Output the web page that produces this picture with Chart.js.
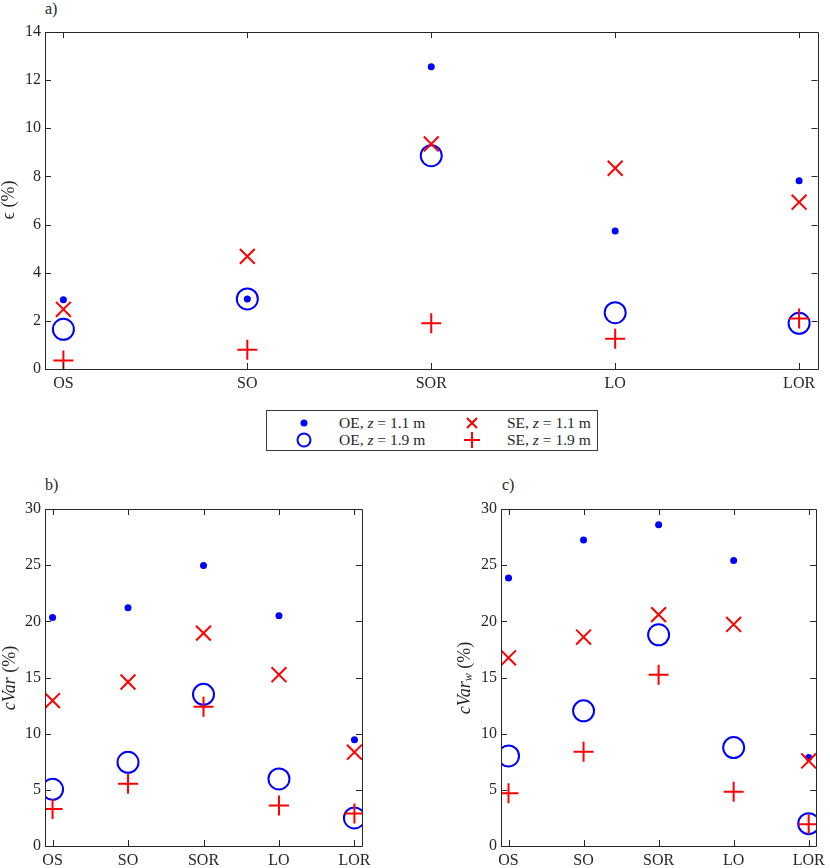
<!DOCTYPE html>
<html>
<head>
<meta charset="utf-8">
<script src="https://cdn.jsdelivr.net/npm/chart.js@4.4.1/dist/chart.umd.min.js"></script>
<style>
body{margin:0;background:#fff;width:830px;height:868px;position:relative;overflow:hidden;font-family:"Liberation Serif",serif;color:#262626}
canvas{position:absolute}
.panel{position:absolute;font-size:16px}
#legend{position:absolute;left:266px;top:410px;width:332px;height:41px;border:1px solid #3a3a3a;box-sizing:border-box;font-size:15.5px}
#legend .it{position:absolute;white-space:nowrap;line-height:16px}
#legend svg{position:absolute}
</style>
</head>
<body>
<div class="panel" style="left:45px;top:0px">a)</div>
<div class="panel" style="left:45px;top:476px">b)</div>
<div class="panel" style="left:502px;top:476px">c)</div>

<canvas id="chartA" width="830" height="400" style="left:0;top:0;width:830px;height:400px"></canvas>
<canvas id="chartB" width="420" height="398" style="left:0;top:470px;width:420px;height:398px"></canvas>
<canvas id="chartC" width="410" height="398" style="left:420px;top:470px;width:410px;height:398px"></canvas>

<div id="legend">
  <svg width="14" height="14" style="left:30px;top:5px"><circle cx="7" cy="7" r="3.5" fill="#0000ff"/></svg>
  <div class="it" style="left:72px;top:4px">OE, <i>z</i> = 1.1 m</div>
  <svg width="24" height="24" style="left:25px;top:17px"><circle cx="12" cy="12" r="6.5" fill="none" stroke="#0000ff" stroke-width="2"/></svg>
  <div class="it" style="left:72px;top:21px">OE, <i>z</i> = 1.9 m</div>
  <svg width="16" height="16" style="left:197px;top:4px"><path d="M3 3L13 13M13 3L3 13" stroke="#ff0000" stroke-width="2"/></svg>
  <div class="it" style="left:240px;top:4px">SE, <i>z</i> = 1.1 m</div>
  <svg width="18" height="18" style="left:196px;top:20px"><path d="M9 1V17M1 9H17" stroke="#ff0000" stroke-width="2"/></svg>
  <div class="it" style="left:240px;top:21px">SE, <i>z</i> = 1.9 m</div>
</div>

<script>
const categories = ["OS", "SO", "SOR", "LO", "LOR"];

// a) epsilon (%)
const epsOE11 = [2.88, 2.91, 12.56, 5.73, 7.82];
const epsOE19 = [1.65, 2.91, 8.86, 2.34, 1.90];
const epsSE11 = [2.48, 4.68, 9.35, 8.34, 6.93];
const epsSE19 = [0.35, 0.80, 1.90, 1.26, 2.10];
const epsTicks = [0, 2, 4, 6, 8, 10, 12, 14];

// b) cVar (%)
const cvarOE11 = [20.35, 21.2, 24.98, 20.5, 9.45];
const cvarOE19 = [5.05, 7.45, 13.5, 5.97, 2.5];
const cvarSE11 = [12.95, 14.6, 18.95, 15.25, 8.35];
const cvarSE19 = [3.3, 5.55, 12.4, 3.6, 2.9];

// c) cVar_w (%)
const cvarwOE11 = [23.85, 27.23, 28.6, 25.42, 7.87];
const cvarwOE19 = [8.02, 12.03, 18.8, 8.76, 1.99];
const cvarwSE11 = [16.75, 18.6, 20.6, 19.72, 7.57];
const cvarwSE19 = [4.69, 8.38, 15.24, 4.84, 1.93];
const cvarTicks = [0, 5, 10, 15, 20, 25, 30];

const FONT = "'Liberation Serif', serif";
const AXIS = "#262626";

function pts(vals) {
    return vals.map((v, i) => ({x: i + 1, y: v}));
}

function sets(oe11, oe19, se11, se19) {
    return [
        {data: pts(oe11), pointStyle: "circle", pointRadius: 3.5, backgroundColor: "#0000ff", borderColor: "#0000ff", borderWidth: 0, order: 3},
        {data: pts(oe19), pointStyle: "circle", pointRadius: 10.5, backgroundColor: "rgba(0,0,0,0)", borderColor: "#0000ff", borderWidth: 2, order: 2},
        {data: pts(se11), pointStyle: "crossRot", pointRadius: 10.5, borderColor: "#ff0000", borderWidth: 2, order: 1},
        {data: pts(se19), pointStyle: "cross", pointRadius: 10, borderColor: "#ff0000", borderWidth: 2, order: 0}
    ];
}

// box round the plot area with MATLAB style inward ticks
const frame = {
    id: "frame",
    afterDraw(chart) {
        let c = chart.ctx, a = chart.chartArea;
        let xs = chart.scales.x, ys = chart.scales.y;
        c.save();
        c.strokeStyle = AXIS;
        c.lineWidth = 1;
        c.beginPath();
        c.rect(Math.round(a.left) + 0.5, Math.round(a.top) + 0.5, Math.round(a.right - a.left), Math.round(a.bottom - a.top));
        xs.ticks.forEach(t => {
            let x = Math.round(xs.getPixelForValue(t.value)) + 0.5;
            c.moveTo(x, a.bottom); c.lineTo(x, a.bottom - 6);
            c.moveTo(x, a.top); c.lineTo(x, a.top + 6);
        });
        ys.ticks.forEach(t => {
            let y = Math.round(ys.getPixelForValue(t.value)) + 0.5;
            c.moveTo(a.left, y); c.lineTo(a.left + 6, y);
            c.moveTo(a.right, y); c.lineTo(a.right - 6, y);
        });
        c.stroke();

        // y axis title, rotated, parts in italic / upright
        let tt = chart.options.plugins.ytitle;
        if (tt) {
            c.translate(tt.x, tt.y);
            c.rotate(-Math.PI / 2);
            c.fillStyle = AXIS;
            c.textBaseline = "middle";
            let widths = tt.parts.map(p => {
                c.font = (p.it ? "italic " : "") + (p.sub ? 12 : 18) + "px " + FONT;
                return c.measureText(p.t).width;
            });
            let x = -widths.reduce((s, w) => s + w, 0) / 2;
            tt.parts.forEach((p, i) => {
                c.font = (p.it ? "italic " : "") + (p.sub ? 12 : 18) + "px " + FONT;
                c.fillText(p.t, x, p.sub ? 4 : 0);
                x += widths[i];
            });
        }
        c.restore();
    }
};

function makeChart(id, datasets, yTicks, lay, title) {
    return new Chart(document.getElementById(id), {
        type: "scatter",
        data: {datasets: datasets},
        options: {
            responsive: false,
            animation: false,
            layout: {padding: {left: lay.padL, top: lay.padT, right: lay.padR, bottom: 0}},
            plugins: {
                legend: {display: false},
                tooltip: {enabled: false},
                ytitle: title
            },
            scales: {
                x: {
                    type: "linear", min: 0.9, max: 5.1,
                    afterBuildTicks: s => { s.ticks = categories.map((c, i) => ({value: i + 1})); },
                    afterFit: s => { s.height = lay.xH; },
                    grid: {display: false, drawTicks: false},
                    border: {display: false},
                    ticks: {callback: v => categories[v - 1], color: AXIS, font: {family: FONT, size: 16}, padding: 5, maxRotation: 0, autoSkip: false}
                },
                y: {
                    min: yTicks[0], max: yTicks[yTicks.length - 1],
                    afterBuildTicks: s => { s.ticks = yTicks.map(v => ({value: v})); },
                    afterFit: s => { s.width = lay.yW; },
                    grid: {display: false, drawTicks: false},
                    border: {display: false},
                    ticks: {color: AXIS, font: {family: FONT, size: 16}, padding: 4}
                }
            }
        },
        plugins: [frame]
    });
}

makeChart("chartA", sets(epsOE11, epsOE19, epsSE11, epsSE19), epsTicks,
    {padL: 0, yW: 45, padT: 32, padR: 12, xH: 31},
    {x: 9, y: 200, parts: [{t: "\u03F5", it: false}, {t: " (%)"}]});

makeChart("chartB", sets(cvarOE11, cvarOE19, cvarSE11, cvarSE19), cvarTicks,
    {padL: 0, yW: 45, padT: 39, padR: 58, xH: 22},
    {x: 10, y: 208, parts: [{t: "cVar", it: true}, {t: " (%)"}]});

makeChart("chartC", sets(cvarwOE11, cvarwOE19, cvarwSE11, cvarwSE19), cvarTicks,
    {padL: 36, yW: 45, padT: 39, padR: 12, xH: 22},
    {x: 45, y: 208, parts: [{t: "cVar", it: true}, {t: "w", it: true, sub: true}, {t: " (%)"}]});
</script>
</body>
</html>
